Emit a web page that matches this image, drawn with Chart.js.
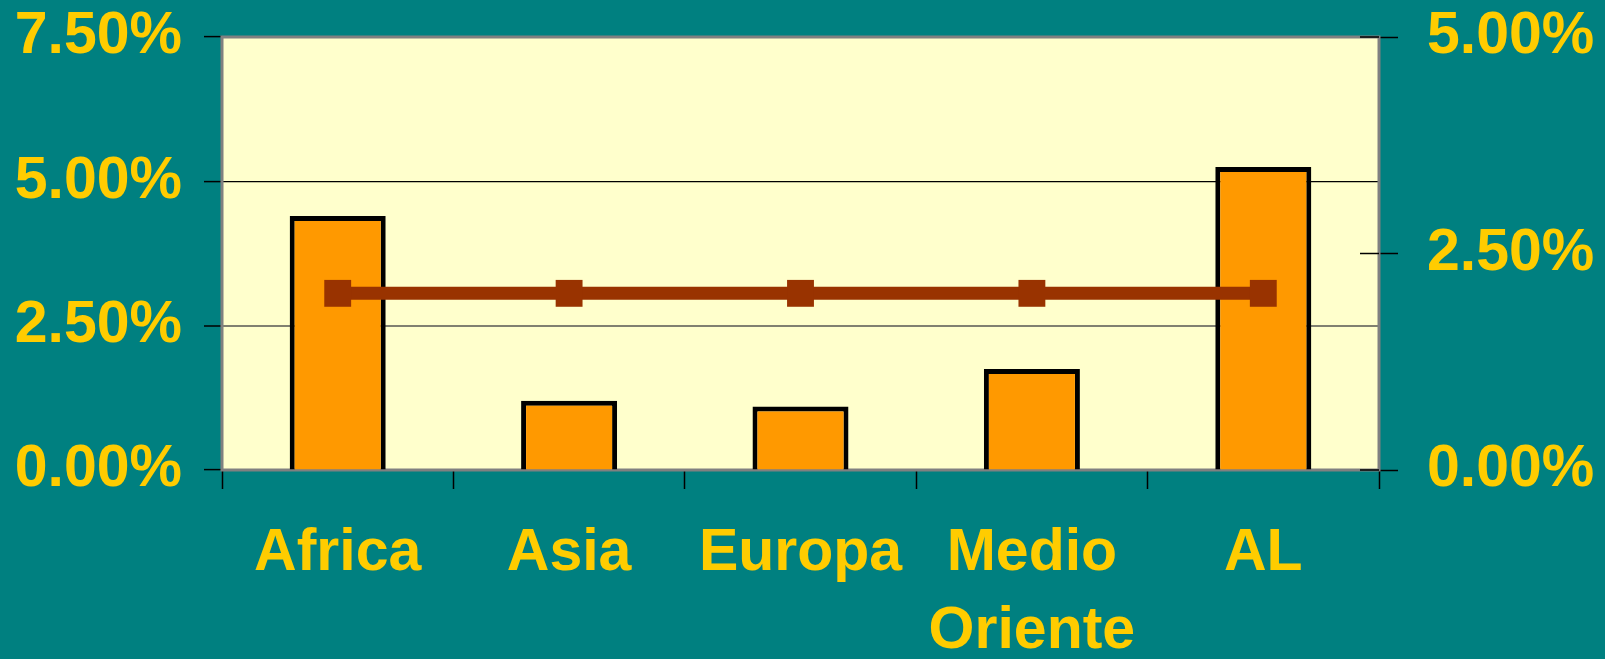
<!DOCTYPE html>
<html lang="es">
<head>
  <meta charset="UTF-8" />
  <title>Chart</title>
  <script src="https://cdn.jsdelivr.net/npm/chart.js"></script>
  <style>
    html, body { margin: 0; padding: 0; background: #008080; }
    canvas { display: block; }
  </style>
</head>
<body>
  <canvas id="chart" width="1605" height="659"></canvas>

  <script>
    // data
    const categories = ['Africa', 'Asia', 'Europa', ['Medio', 'Oriente'], 'AL'];
    const barValues = [4.40, 1.20, 1.10, 1.75, 5.25];   // left axis, %
    const lineValues = [2.04, 2.04, 2.04, 2.04, 2.04];  // right axis, %
    const leftMax = 7.5;
    const rightMax = 5;
    const tickStep = 2.5;

    const yellow = '#FFCC00';
    const family = '"Liberation Sans", Arial, sans-serif';
    const xFont = { family, size: 59, weight: 'bold', lineHeight: 1.32 };
    // tiny lineHeight so the y labels don't push the plot area down (single line, so position is unchanged)
    const yFont = { family, size: 59, weight: 'bold', lineHeight: 0.1 };

    const pct = v => Number(v).toFixed(2) + '%';

    // plot area background, border and the inner half of right ticks
    const plotArea = {
      id: 'plotArea',
      beforeDraw(chart) {
        const a = chart.chartArea, ctx = chart.ctx;
        ctx.save();
        ctx.fillStyle = '#FFFFCC';
        ctx.fillRect(a.left, a.top, a.right - a.left, a.bottom - a.top);
        ctx.restore();
      },
      beforeDatasetsDraw(chart) {
        const a = chart.chartArea, ctx = chart.ctx;
        ctx.save();
        ctx.strokeStyle = '#808080';
        ctx.lineWidth = 3;
        ctx.strokeRect(a.left, a.top, a.right - a.left, a.bottom - a.top);
        // right axis ticks also cross into the plot
        const y1 = chart.scales.y1;
        ctx.strokeStyle = '#000';
        ctx.lineWidth = 1.5;
        y1.ticks.forEach(t => {
          const py = y1.getPixelForValue(t.value);
          ctx.beginPath();
          ctx.moveTo(a.right - 19, py);
          ctx.lineTo(a.right, py);
          ctx.stroke();
        });
        ctx.restore();
      }
    };

    const ctx = document.getElementById('chart').getContext('2d');
    const chart = new Chart(ctx, {
      data: {
        labels: categories,
        datasets: [
          {
            type: 'line',
            data: lineValues,
            yAxisID: 'y1',
            order: 0,
            borderColor: '#993300',
            borderWidth: 13,
            pointStyle: 'rect',
            pointRadius: 19,
            pointBorderWidth: 0,
            pointBackgroundColor: '#993300',
            tension: 0
          },
          {
            type: 'bar',
            data: barValues,
            yAxisID: 'y',
            order: 1,
            backgroundColor: '#FF9900',
            borderColor: '#000',
            borderWidth: 5,
            barPercentage: 0.415,
            categoryPercentage: 1
          }
        ]
      },
      options: {
        responsive: false,
        animation: false,
        layout: { padding: { top: 37 } },
        plugins: { legend: { display: false }, tooltip: { enabled: false } },
        scales: {
          x: {
            offset: true,
            border: { display: false },
            grid: { offset: true, drawOnChartArea: false, tickLength: 19, tickColor: '#000', tickWidth: 1.5 },
            ticks: { color: yellow, font: xFont, padding: 26, maxRotation: 0, autoSkip: false },
            afterFit: s => { s.height = 189; }
          },
          y: {
            position: 'left',
            min: 0,
            max: leftMax,
            border: { display: false },
            grid: {
              color: c => c.tick.value === 5 ? '#000' : (c.tick.value === 2.5 ? '#808070' : 'rgba(0,0,0,0)'),
              lineWidth: c => c.tick.value === 2.5 ? 2 : 1.2,
              tickLength: 18,
              tickColor: '#000',
              tickWidth: 1.5
            },
            ticks: { stepSize: tickStep, color: yellow, font: yFont, padding: 22, callback: pct },
            afterFit: s => { s.width = 222; }
          },
          y1: {
            position: 'right',
            min: 0,
            max: rightMax,
            border: { display: false },
            grid: { drawOnChartArea: false, tickLength: 19, tickColor: '#000', tickWidth: 1.5 },
            ticks: { stepSize: tickStep, color: yellow, font: yFont, padding: 29, callback: pct },
            afterFit: s => { s.width = 226; }
          }
        }
      },
      plugins: [plotArea]
    });
  </script>
</body>
</html>
